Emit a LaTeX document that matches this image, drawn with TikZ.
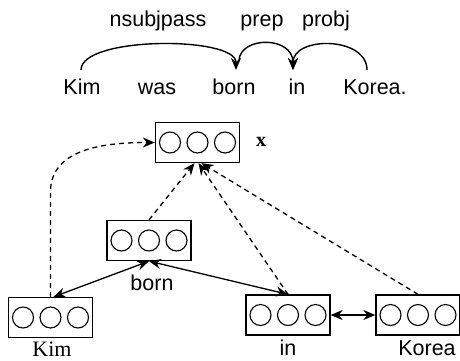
\documentclass[tikz,border=0pt]{standalone}
\usepackage{fontspec}
\setmainfont{Liberation Serif}
\setsansfont{Liberation Sans}
\usetikzlibrary{arrows.meta,calc}
\begin{document}
\begin{tikzpicture}[x=1pt,y=-1pt,
  sans/.style={font=\sffamily\fontsize{21.5}{24}\selectfont, inner sep=0pt, anchor=base},
  serif/.style={font=\rmfamily\fontsize{22}{24}\selectfont, inner sep=0pt, anchor=base},
  vecbox/.style={draw, line width=1.3pt, minimum width=84pt, minimum height=40pt, inner sep=0pt},
  tipone/.style={-{Stealth[length=12pt,width=10pt]}},
  tiptwo/.style={{Stealth[length=12pt,width=10pt]}-{Stealth[length=12pt,width=10pt]}},
  dashline/.style={dash pattern=on 5pt off 4pt},
  conn/.style={line width=1.3pt},
  arcline/.style={line width=1.4pt, -{Stealth[length=12pt,width=10pt]}}
]
\useasboundingbox (0,0) rectangle (460,360);

% top sentence
\node[sans] (lnsubj) at (158,26) {nsubjpass};
\node[sans] (lprep)  at (262,26) {prep};
\node[sans] (lprobj) at (326,26) {probj};
\node[sans] (wkim)   at (82,94)  {Kim};
\node[sans] (wwas)   at (157,94) {was};
\node[sans] (wborn)  at (234,94) {born};
\node[sans] (win)    at (297,94) {in};
\node[sans] (wkorea) at (375,94) {Korea.};

\coordinate (akim) at (81,70);
\coordinate (aborn) at (236,70);
\coordinate (aborn2) at (239,60);
\coordinate (ain) at (293,70);
\coordinate (akorea) at (367,70);
\draw[arcline] (akim) .. controls (81,36) and (236,36) .. (aborn);
\draw[arcline] (aborn2) .. controls (241,36) and (293,36) .. (ain);
\draw[arcline] (akorea) .. controls (367,36) and (293,36) .. (ain);

% boxes
\node[vecbox] (X)     at (197.5,142.5) {};
\node[vecbox] (born)  at (149,240.5) {};
\node[vecbox] (kim)   at (50.5,317.5) {};
\node[vecbox] (in)    at (288,315) {};
\node[vecbox] (korea) at (418,315) {};
\foreach \b in {X,born,kim,in,korea}{
  \foreach \dx in {-27.5,0,27.5}{
    \draw[line width=1.1pt] ($(\b.center)+(\dx,0)$) circle[radius=10.5pt];
  }
}

% labels
\node[serif, font=\rmfamily\bfseries\fontsize{20}{24}\selectfont] (lx) at (261,146) {x};
\node[sans] (lborn)  at (152,290) {born};
\node[serif] (lkim)  at (52,356) {Kim};
\node[sans] (lin)    at (288,355) {in};
\node[sans] (lkorea) at (427,355) {Korea};

% dashed connectors
\draw[conn,dashline,tipone] (kim.north) -- ++(0,-105) to[out=90,in=180] (X.west);
\draw[conn,dashline,tipone] (born.north) -- ([xshift=-3pt]X.south);
\draw[conn,dashline,tipone] (in.north) -- ([xshift=1pt]X.south);
\draw[conn,dashline,tipone] (korea.north) -- ([xshift=4pt]X.south);

% solid connectors
\draw[conn,tiptwo] (born.south) -- ([xshift=3pt]kim.north);
\draw[conn,tiptwo] (born.south) -- (in.north);
\draw[conn,tiptwo] (in.east) -- (korea.west);
\end{tikzpicture}
\end{document}
